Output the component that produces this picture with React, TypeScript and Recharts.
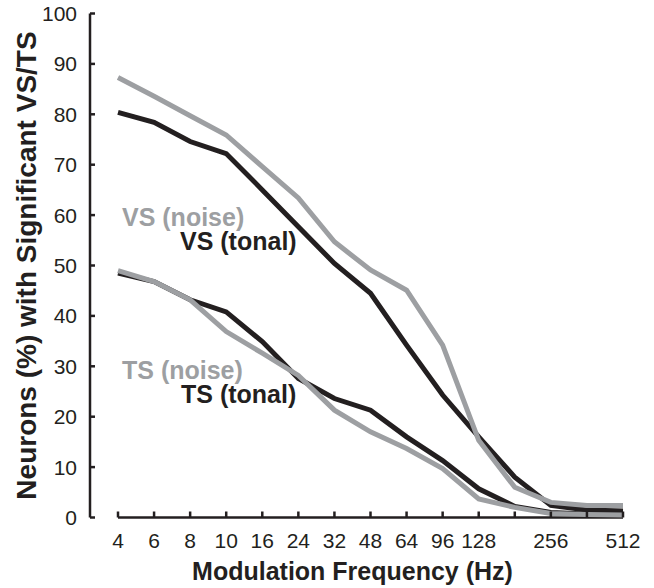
import React from 'react'
import { LineChart, Line, XAxis, YAxis, ReferenceLine } from 'recharts'

// modulation frequencies (Hz); two of them carry no tick label
const freqs = [4, 6, 8, 10, 16, 24, 32, 48, 64, 96, 128, 192, 256, 384, 512]
const freqLabels = ['4', '6', '8', '10', '16', '24', '32', '48', '64', '96', '128', '', '256', '', '512']

// % neurons with significant VS / TS
const vsNoise = [87.3, 83.6, 79.7, 75.9, 69.6, 63.4, 54.7, 49.1, 45.1, 34.2, 15.3, 6.0, 3.0, 2.4, 2.4]
const vsTonal = [80.4, 78.4, 74.6, 72.2, 65.0, 57.7, 50.4, 44.5, 34.2, 24.3, 16.0, 8.0, 2.4, 1.5, 1.3]
const tsNoise = [49.0, 46.8, 43.2, 36.9, 32.6, 28.2, 21.3, 17.0, 13.7, 9.7, 3.7, 2.0, 0.8, 0.6, 0.5]
const tsTonal = [48.5, 46.8, 43.2, 40.8, 34.9, 27.6, 23.6, 21.3, 16.0, 11.3, 5.7, 2.2, 1.0, 0.7, 0.7]

const yTicks = [0, 10, 20, 30, 40, 50, 60, 70, 80, 90, 100]

const BLACK = '#231f20'
const GRAY = '#9d9fa2'
const FONT = '"Liberation Sans", Arial, Helvetica, sans-serif'

export default function App() {
  const data = freqs.map((f, i) => ({
    freq: f,
    vsNoise: vsNoise[i],
    vsTonal: vsTonal[i],
    tsNoise: tsNoise[i],
    tsTonal: tsTonal[i],
  }))

  const tick = { fill: BLACK, fontSize: 21, fontFamily: FONT }

  return (
    <div style={{ position: 'absolute', left: 0, top: 0, width: 654, height: 588, background: '#fff' }}>
      <LineChart width={654} height={588} data={data} margin={{ top: 13.5, right: 31, left: 0, bottom: 0 }}>
        <XAxis
          dataKey="freq"
          type="category"
          interval={0}
          padding={{ left: 28, right: 0 }}
          height={70.5}
          axisLine={false}
          tickLine={{ stroke: BLACK, strokeWidth: 2.5 }}
          tickSize={-6}
          tickMargin={22}
          tick={tick}
          tickFormatter={(v) => freqLabels[freqs.indexOf(Number(v))]}
          label={{ value: 'Modulation Frequency (Hz)', position: 'insideBottom', offset: 8, dx: -4, fill: BLACK, fontSize: 25, fontWeight: 'bold', fontFamily: FONT }}
        />
        <YAxis
          domain={[0, 100]}
          ticks={yTicks}
          width={90}
          axisLine={{ stroke: BLACK, strokeWidth: 2.5 }}
          tickLine={{ stroke: BLACK, strokeWidth: 2.5 }}
          tickSize={-5}
          tickMargin={18}
          tick={tick}
          label={{ value: 'Neurons (%) with Significant VS/TS', angle: -90, position: 'insideLeft', offset: 26, fill: BLACK, fontSize: 28, fontWeight: 'bold', fontFamily: FONT, style: { textAnchor: 'middle' } }}
        />
        {/* x axis line only spans the data range */}
        <ReferenceLine segment={[{ x: 4, y: 0 }, { x: 512, y: 0 }]} stroke={BLACK} strokeWidth={2.5} />
        <Line type="linear" dataKey="vsTonal" stroke={BLACK} strokeWidth={5} dot={false} isAnimationActive={false} />
        <Line type="linear" dataKey="tsTonal" stroke={BLACK} strokeWidth={5} dot={false} isAnimationActive={false} />
        <Line type="linear" dataKey="vsNoise" stroke={GRAY} strokeWidth={5} dot={false} isAnimationActive={false} />
        <Line type="linear" dataKey="tsNoise" stroke={GRAY} strokeWidth={5} dot={false} isAnimationActive={false} />
      </LineChart>
      <svg width={654} height={588} style={{ position: 'absolute', left: 0, top: 0, pointerEvents: 'none' }}>
        <g fontFamily={FONT} fontSize={25} fontWeight="bold">
          <text x={122} y={226} fill={GRAY}>VS (noise)</text>
          <text x={180} y={250} fill={BLACK}>VS (tonal)</text>
          <text x={122} y={379} fill={GRAY}>TS (noise)</text>
          <text x={181} y={403} fill={BLACK}>TS (tonal)</text>
        </g>
      </svg>
    </div>
  )
}
